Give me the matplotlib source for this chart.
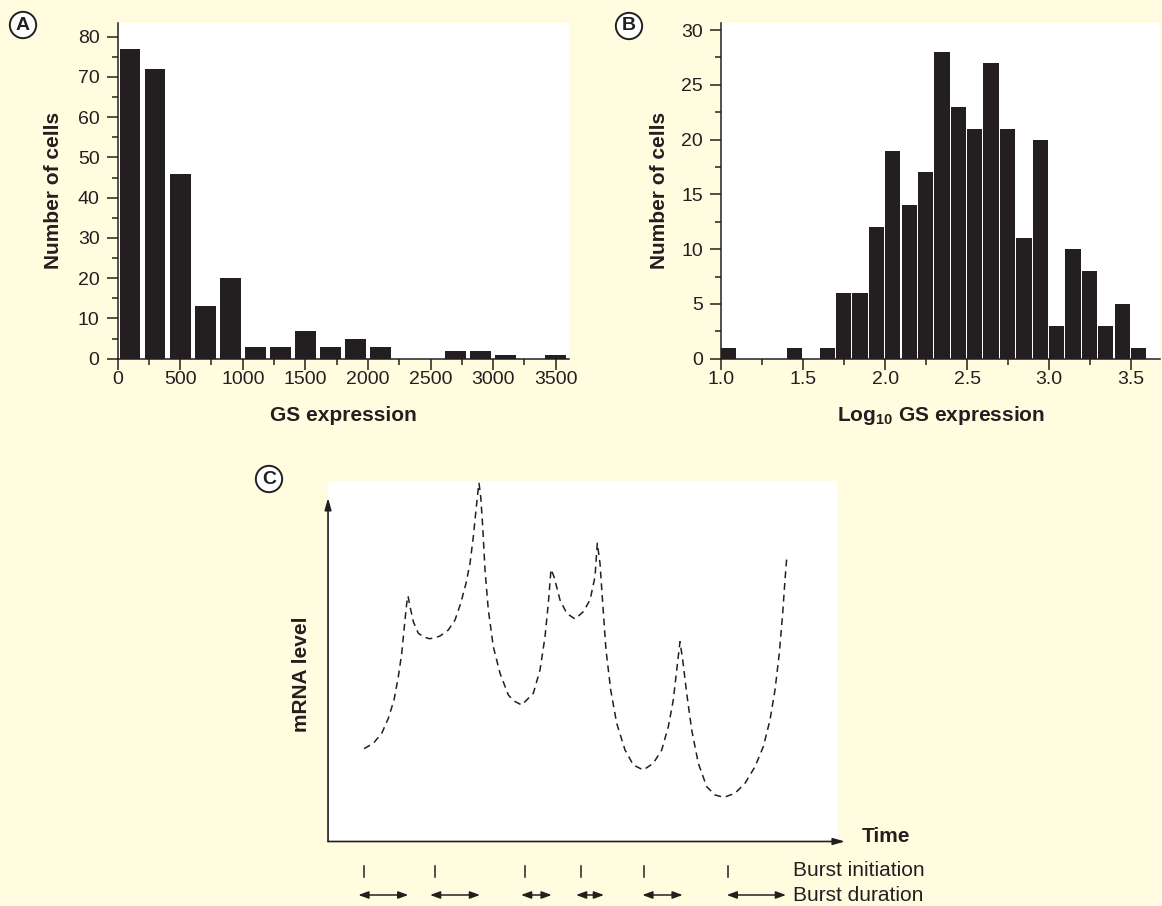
import matplotlib
matplotlib.use("Agg")
import matplotlib.pyplot as plt
from matplotlib.ticker import MultipleLocator

plt.rcParams['font.family'] = ['Liberation Sans', 'DejaVu Sans']
plt.rcParams['mathtext.fontset'] = 'custom'
plt.rcParams['mathtext.rm'] = 'Liberation Sans:bold'
plt.rcParams['mathtext.bf'] = 'Liberation Sans:bold'

# ---------------- data ----------------
# Panel A: GS expression histogram (bin centres, counts)
a_bin_centers = [100, 300, 500, 700, 900, 1100, 1300, 1500, 1700, 1900, 2100,
                 2300, 2500, 2700, 2900, 3100, 3300, 3500]
a_counts = [77, 72, 46, 13, 20, 3, 3, 7, 3, 5, 3, 0, 0, 2, 2, 1, 0, 1]

# Panel B: log10 GS expression histogram (bin left edges, counts)
b_bin_left = [1.0, 1.1, 1.2, 1.3, 1.4, 1.5, 1.6, 1.7, 1.8, 1.9, 2.0, 2.1, 2.2,
              2.3, 2.4, 2.5, 2.6, 2.7, 2.8, 2.9, 3.0, 3.1, 3.2, 3.3, 3.4, 3.5]
b_counts = [1, 0, 0, 0, 1, 0, 1, 6, 6, 12, 19, 14, 17, 28, 23, 21, 27, 21, 11,
            20, 3, 10, 8, 3, 5, 1]

# Panel C: schematic mRNA level over time (arbitrary units)
c_time = [36, 45.3, 53.7, 60.3, 66, 70.3, 73.7, 76.3, 78.7, 80, 82, 85.3, 90.3,
          96, 101.3, 106.5, 112, 120.3, 127, 132.7, 138, 142, 145.3, 148, 150.3,
          151, 152.7, 154.7, 157, 160.3, 165.3, 172, 180.3, 186, 193.7, 205.3,
          212, 217, 220.3, 223, 226, 232, 238.7, 247, 255.3, 262, 267, 269.3,
          272, 274.7, 278, 282.7, 288.7, 297, 305.3, 315.3, 325.3, 333.7, 340.3,
          345.3, 348.7, 352, 354.7, 358.7, 363.7, 370.3, 378.7, 387, 396, 407,
          417, 427, 435.3, 442, 447, 451.3, 454.7, 457, 458.7]
c_level = [92.8, 98.2, 108.2, 123.2, 141.5, 164.8, 188.2, 214.8, 238.2, 245.5,
           234.8, 219.8, 208.2, 204.5, 202.8, 203.5, 205.5, 211.5, 221.5, 238.2,
           258.2, 278.2, 304.8, 331.5, 353.5, 358.2, 344.8, 314.8, 271.5, 231.5,
           194.8, 168.2, 146.5, 140.5, 136.5, 148.2, 171.5, 204.8, 238.2, 272.2,
           264.8, 241.5, 228.2, 222.5, 229.8, 241.5, 264.8, 298.2, 278.2, 238.2,
           191.5, 151.5, 118.2, 91.5, 76.5, 71.5, 78.2, 91.5, 114.8, 141.5,
           171.5, 199.8, 181.5, 148.2, 111.5, 78.2, 54.8, 46.5, 44.2, 48.2, 58.2,
           74.8, 94.8, 121.5, 151.5, 188.2, 228.2, 261.5, 283.2]
burst_initiation = [36, 107, 197, 252.7, 316.3, 399.7]
burst_start = [30.3, 102, 193, 248, 314.3, 398.7]
burst_end = [80.3, 152, 223.7, 276, 354.7, 458]

BG = '#FFFCE0'
INK = '#231F20'

fig = plt.figure(figsize=(11.62, 9.06), dpi=100, facecolor=BG)


def style_hist_axes(ax):
    ax.set_facecolor('white')
    for s in ('top', 'right'):
        ax.spines[s].set_visible(False)
    for s in ('left', 'bottom'):
        ax.spines[s].set_color(INK)
        ax.spines[s].set_linewidth(1.1)
    ax.tick_params(which='both', direction='out', color=INK, labelcolor=INK,
                   width=1.1, labelsize=14)
    ax.tick_params(which='major', length=8)
    ax.tick_params(which='minor', length=4.5)
    ax.tick_params(axis='x', which='both', pad=1)
    ax.tick_params(axis='y', which='both', pad=5)


# ---------------- Panel A ----------------
axA = fig.add_axes([0.1012, 0.6041, 0.3885, 0.3705])
axA.bar(a_bin_centers, a_counts, width=165, color=INK)
axA.set_xlim(0, 3606)
axA.set_ylim(0, 83.4)
axA.xaxis.set_major_locator(MultipleLocator(500))
axA.xaxis.set_minor_locator(MultipleLocator(250))
axA.yaxis.set_major_locator(MultipleLocator(10))
axA.yaxis.set_minor_locator(MultipleLocator(5))
style_hist_axes(axA)
axA.set_xlabel('GS expression', fontsize=15, fontweight='bold', color=INK)
axA.set_ylabel('Number of cells', fontsize=15, fontweight='bold', color=INK)
axA.xaxis.set_label_coords(0.5, -0.168)
axA.xaxis.label.set_verticalalignment('center')
axA.yaxis.set_label_coords(-0.142, 0.5)
axA.yaxis.label.set_verticalalignment('center')

# ---------------- Panel B ----------------
axB = fig.add_axes([0.6207, 0.6041, 0.3776, 0.3705])
axB.bar(b_bin_left, b_counts, width=0.093, align='edge', color=INK)
axB.set_xlim(1.0, 3.677)
axB.set_ylim(0, 30.64)
axB.xaxis.set_major_locator(MultipleLocator(0.5))
axB.xaxis.set_minor_locator(MultipleLocator(0.25))
axB.yaxis.set_major_locator(MultipleLocator(5))
axB.yaxis.set_minor_locator(MultipleLocator(2.5))
axB.xaxis.set_major_formatter(matplotlib.ticker.FormatStrFormatter('%.1f'))
style_hist_axes(axB)
axB.set_xlabel(r'Log$_{\mathbf{10}}$ GS expression', fontsize=15,
               fontweight='bold', color=INK)
axB.set_ylabel('Number of cells', fontsize=15, fontweight='bold', color=INK)
axB.xaxis.set_label_coords(0.5, -0.168)
axB.xaxis.label.set_verticalalignment('center')
axB.yaxis.set_label_coords(-0.141, 0.5)
axB.yaxis.label.set_verticalalignment('center')

# ---------------- Panel C ----------------
axC = fig.add_axes([0.2823, 0.0712, 0.4380, 0.3979])
axC.set_facecolor('white')
for s in axC.spines.values():
    s.set_visible(False)
axC.set_xticks([])
axC.set_yticks([])
axC.set_xlim(0, 509)
axC.set_ylim(0, 360.5)
axC.plot(c_time, c_level, color=INK, lw=1.1, dashes=(4.5, 3.2))

# axis arrows
for tip in [(0, 0.953), (1.0157, 0)]:
    axC.annotate('', xy=tip, xytext=(0, 0), xycoords='axes fraction',
                 textcoords='axes fraction', annotation_clip=False,
                 arrowprops=dict(arrowstyle='-|>,head_length=0.7,head_width=0.2',
                                 color=INK, lw=1.2, shrinkA=0, shrinkB=0,
                                 mutation_scale=10))
axC.text(1.049, 0.013, 'Time', transform=axC.transAxes, fontsize=15,
         fontweight='bold', color=INK, ha='left', va='center')
axC.set_ylabel('mRNA level', fontsize=15, fontweight='bold', color=INK)
axC.yaxis.set_label_coords(-0.053, 0.465)
axC.yaxis.label.set_verticalalignment('center')

# burst annotations below axis
for t in burst_initiation:
    axC.plot([t, t], [-24.5, -35.2], color=INK, lw=1.1, clip_on=False)
for s, e in zip(burst_start, burst_end):
    axC.annotate('', xy=(e, -53.5), xytext=(s, -53.5), annotation_clip=False,
                 arrowprops=dict(arrowstyle='<|-|>,head_length=0.6,head_width=0.22',
                                 color=INK, lw=1.1, shrinkA=0, shrinkB=0,
                                 mutation_scale=10))
axC.text(465, -29.5, 'Burst initiation', fontsize=15, color=INK,
         ha='left', va='center', clip_on=False)
axC.text(465, -54.5, 'Burst duration', fontsize=15, color=INK,
         ha='left', va='center', clip_on=False)

# panel letters
for lab, (px, py) in zip(['A', 'B', 'C'], [(23, 25), (629, 26), (269, 479)]):
    fig.text(px / 1162, 1 - py / 906, lab, fontsize=14, fontweight='bold',
             color=INK, ha='center', va='center',
             bbox=dict(boxstyle='circle,pad=0.24', fc='white', ec=INK, lw=1.4))

fig.savefig('out.png', dpi=100, facecolor=BG)
